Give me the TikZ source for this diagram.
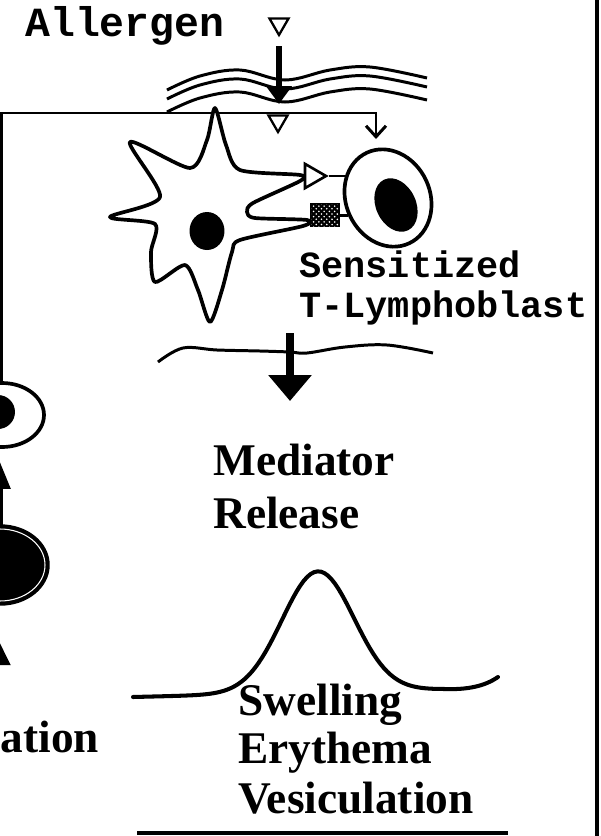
\documentclass[tikz,border=0pt]{standalone}
\usepackage{fontspec}
\setmainfont{Liberation Serif}
\setmonofont{Liberation Mono}
\usetikzlibrary{arrows.meta,shapes.geometric,patterns}

\tikzset{
  outline/.style={line width=2.1pt, line join=round},
  thinline/.style={line width=1.7pt},
  antigen/.style={draw, line width=1.3pt, fill=white, regular polygon,
    regular polygon sides=3, shape border rotate=180, minimum size=0.44cm, inner sep=0pt},
  nucleus/.style={ellipse, fill=black, inner sep=0pt},
  monotext/.style={inner sep=0pt, anchor=base west,
    font=\fontsize{21}{21}\selectfont\ttfamily\bfseries},
  bigtext/.style={inner sep=0pt, anchor=base west,
    font=\fontsize{25.8}{26}\selectfont\bfseries},
}

\begin{document}
\begin{tikzpicture}[x=0.02cm, y=-0.02cm]
\useasboundingbox (0,0) rectangle (601,836);
\clip (0,0) rectangle (601,836);

% ALLERGEN THROUGH THE SKIN
\node[monotext, font=\fontsize{23.6}{24}\selectfont\ttfamily\bfseries] (allergen) at (25,36) {Allergen};
\node[antigen] (ag) at (279,24) {};
\coordinate (entry) at (279,104);
\foreach \dy in {0,9,22}
  \draw[thinline, shift={(0,\dy)}] plot[smooth, tension=0.6] coordinates
    {(167,90) (200,76) (240,70) (285,80) (330,70) (370,67) (427,78)};
\draw[line width=3.4pt, -{Triangle[length=0.36cm,width=0.5cm]}, shorten <=0.18cm] (ag.south) -- (entry);

% LEFT CELLS
\node[draw, ellipse, outline, minimum width=1.68cm, minimum height=1.28cm] (lc1) at (2,415) {};
\node[nucleus, minimum width=0.68cm, minimum height=0.68cm] (ln1) at (-2,412) {};
\node[ellipse, fill=black, draw=black, line width=2.4pt, double=white, double distance=0.6pt,
  minimum width=1.8cm, minimum height=1.44cm] (lc2) at (0,565) {};
\draw[line width=3pt, -{Triangle[length=0.54cm,width=0.4cm]}, shorten >=0.26cm]
  (lc2.north) -- (lc2.north |- lc1.south);
\coordinate (lowtail) at (-4,720);
\draw[line width=3pt, -{Triangle[length=0.6cm,width=0.56cm]}, shorten >=0.64cm]
  (lowtail) -- (lowtail |- lc2.south);
\node[bigtext] (ation) at (0.5,752) {ation};

% T CELL
\node[draw, ellipse, outline, rotate=25, minimum width=1.68cm, minimum height=2cm, inner sep=0pt] (tc) at (388,198) {};
\node[nucleus, rotate=25, minimum width=0.8cm, minimum height=1.12cm] (tn) at (396,205) {};

% presentation path
\coordinate (corner) at (1.5,113);
\coordinate (turn) at (376,113);
\coordinate (tcin) at (376,139);
\draw[thinline, -{Straight Barb[length=0.22cm,width=0.4cm]}]
  (lc1.north -| corner) -- (corner) -- (turn) -- (tcin);
\node[antigen] (ag2) at (278,121) {};

% DENDRITIC CELL
\draw[outline, fill=white] plot[smooth cycle, tension=0.45] coordinates {
  (215,108) (226,145) (240,170) (300,175) (300,181) (253,203) (247,212)
  (255,218) (307,220) (303,226) (240,240) (232,252) (222,290) (210,322)
  (198,290) (185,265) (155,282) (151,252) (155,224) (110,217) (160,197)
  (130,142) (190,168) (207,140)};
\node[nucleus, minimum width=0.7cm, minimum height=0.76cm] (dn) at (207,231) {};

% receptors
\node[draw, fill=white, line width=1.5pt, regular polygon, regular polygon sides=3,
  shape border rotate=-90, minimum size=0.56cm, inner sep=0pt] (tcr) at (312,176) {};
\node[draw, fill=black, line width=1.5pt, postaction={pattern=crosshatch dots, pattern color=white},
  minimum width=0.54cm, minimum height=0.44cm, inner sep=0pt] (mhc) at (325,215) {};
\draw[thinline] (tcr.east) -- (tcr.east -| tc.west);
\draw[thinline] (mhc.east) -- (mhc.east -| tc.west);

\node[monotext] (sens) at (299,277) {Sensitized};
\node[monotext] (tly) at (299,317) {T-Lymphoblast};

% MEDIATOR RELEASE
\draw[thinline] plot[smooth, tension=0.6] coordinates
  {(158,362) (183,348) (217,350) (260,351) (290,352) (307,353) (345,347) (387,345) (433,353)};
\coordinate (out) at (290,333);
\coordinate (down) at (290,401);
\draw[line width=4pt, -{Triangle[length=0.52cm,width=0.84cm]}] (out) -- (down);
\node[bigtext] (med) at (213,475) {Mediator};
\node[bigtext] (rel) at (213,528) {Release};

% REACTION
\draw[line width=2.3pt, line cap=round]
  plot[domain=133:443, samples=90] (\x, {697-0.025*(\x-133)-121*exp(-((\x-318)/36)^2/2)})
  .. controls (468,690) and (485,686) .. (498,677);
\node[bigtext] (swe) at (238,715) {Swelling};
\node[bigtext] (ery) at (238,763) {Erythema};
\node[bigtext] (ves) at (238,813) {Vesiculation};
\draw[line width=2.3pt] (137,833) -- (508,833);

\draw[line width=1.8pt] (597,0) -- (597,836);
\end{tikzpicture}
\end{document}
